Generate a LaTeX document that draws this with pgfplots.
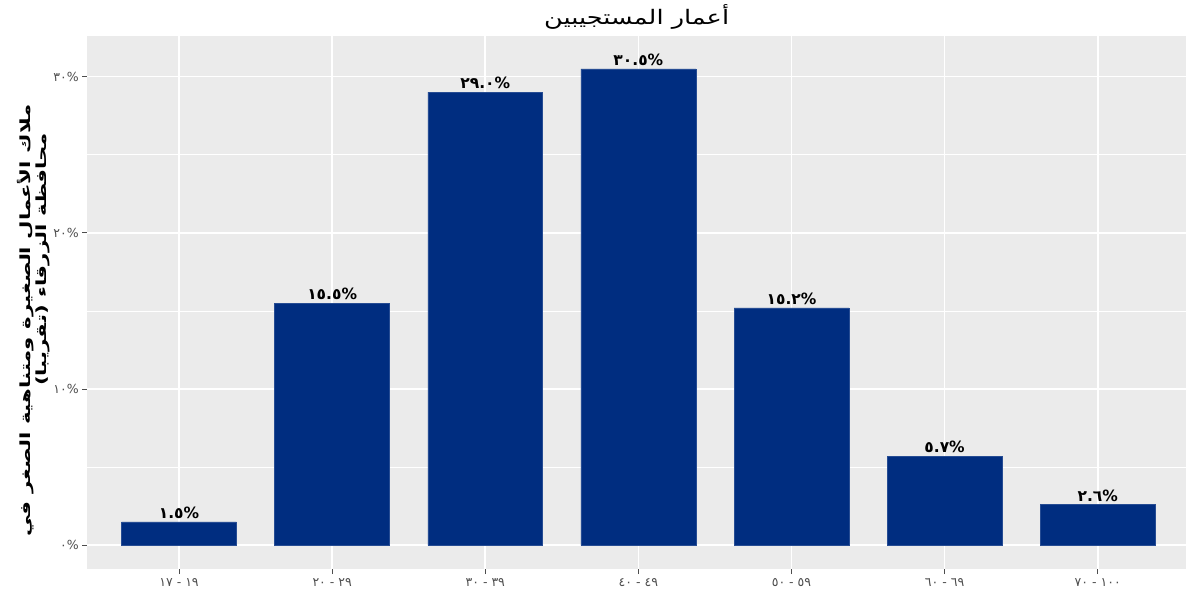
\documentclass[border=0pt]{standalone}
\usepackage{pgfplots}
\pgfplotsset{compat=1.18}
\usepackage{fontspec}
\setmainfont{DejaVu Sans}
\newfontfamily\arabicfont[Script=Arabic]{DejaVu Sans}
\newfontfamily\arabicwide[Script=Arabic,FakeStretch=1.52]{DejaVu Sans}
\newfontfamily\arabictitle[Script=Arabic,FakeStretch=1.28]{DejaVu Sans}
\TeXXeTstate=1
\definecolor{barblue}{HTML}{002D80}
\definecolor{panelgrey}{HTML}{EBEBEB}
\definecolor{ticktext}{HTML}{4D4D4D}
\begin{document}
\begin{tikzpicture}[x=1pt,y=1pt]
\useasboundingbox (0,0) rectangle (1186,595);
\begin{axis}[
  at={(87.2pt,26pt)}, anchor=south west,
  scale only axis, width=1098.8pt, height=533pt,
  xmin=0.4, xmax=7.577, ymin=-1.52, ymax=32.6,
  axis background/.style={fill=panelgrey},
  axis x line*=bottom, axis y line*=left,
  axis line style={draw=none},
  xtick={1,2,3,4,5,6,7},
  xticklabels={١٧ - ١٩, ٢٠ - ٢٩, ٣٠ - ٣٩, ٤٠ - ٤٩, ٥٠ - ٥٩, ٦٠ - ٦٩, ٧٠ - ١٠٠},
  ytick={0,10,20,30},
  yticklabels={٠\%, ١٠\%, ٢٠\%, ٣٠\%},
  minor ytick={5,15,25},
  xmajorgrids, ymajorgrids, yminorgrids,
  major grid style={white, line width=1.6pt},
  minor grid style={white, line width=0.8pt},
  tick align=outside,
  major tick length=5pt,
  minor tick length=0pt,
  tick style={ticktext, line width=1pt},
  ticklabel style={text=ticktext, font=\fontsize{12.5}{12.5}\selectfont},
  xticklabel style={yshift=-1pt},
  ybar,
  bar width=0.75,
  point meta=explicit symbolic,
  nodes near coords={\pgfplotspointmeta\%},
  nodes near coords style={text=black, font=\bfseries\fontsize{15.5}{15.5}\selectfont, anchor=south, inner sep=3pt},
  clip=false,
]
\addplot[fill=barblue, draw=barblue!85!white, line width=0.6pt]
  coordinates {(1,1.5)[١.٥] (2,15.5)[١٥.٥] (3,29.0)[٢٩.٠] (4,30.5)[٣٠.٥] (5,15.2)[١٥.٢] (6,5.7)[٥.٧] (7,2.6)[٢.٦]};
\node[rotate=90, font=\arabicwide\bfseries\fontsize{14}{14}\selectfont, anchor=center] at (axis description cs:-0.0565,0.466) {\beginR ملاك الأعمال الصغيرة ومتناهية الصغر في\endR};
\node[rotate=90, font=\arabicwide\bfseries\fontsize{14}{14}\selectfont, anchor=center] at (axis description cs:-0.0400,0.581) {\beginR محافظة الزرقاء (تقريبا)\endR};
\node[font=\arabictitle\fontsize{20}{20}\selectfont, anchor=base] at (axis description cs:0.5,1) [yshift=11pt] {\beginR أعمار المستجيبين\endR};
\end{axis}
\end{tikzpicture}
\end{document}
